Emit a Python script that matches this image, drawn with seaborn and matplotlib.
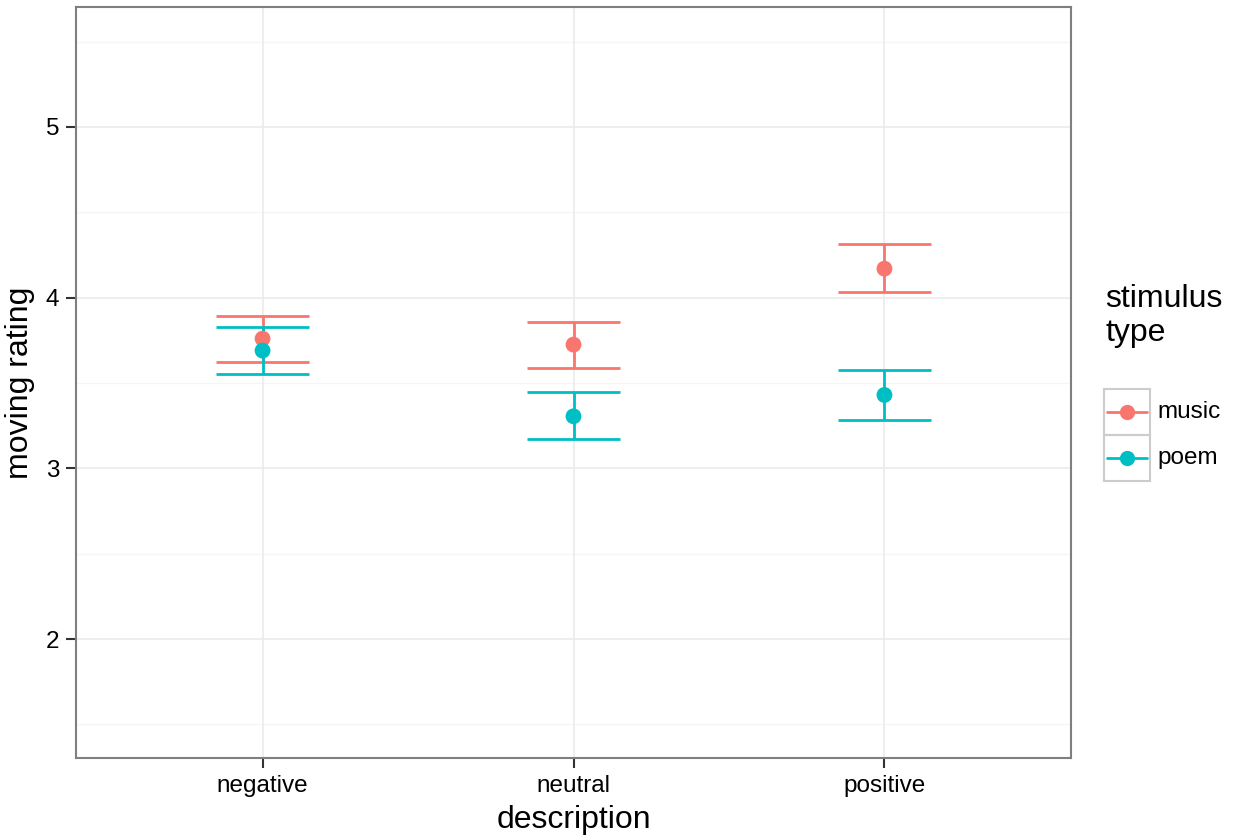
import numpy as np
import pandas as pd
import seaborn as sns
from matplotlib import pyplot as plt
from matplotlib.lines import Line2D
from matplotlib.patches import Rectangle

descriptions = ["negative", "neutral", "positive"]
stim_types = ["music", "poem"]
music_mean = [3.76, 3.725, 4.17]
music_lo = [3.625, 3.59, 4.035]
music_hi = [3.895, 3.86, 4.315]
poem_mean = [3.69, 3.305, 3.43]
poem_lo = [3.55, 3.17, 3.285]
poem_hi = [3.83, 3.445, 3.575]

palette = {"music": "#F8766D", "poem": "#00BFC4"}

df = pd.DataFrame({
    "description": descriptions * 2,
    "stimulus": ["music"] * 3 + ["poem"] * 3,
    "mean": music_mean + poem_mean,
    "lo": music_lo + poem_lo,
    "hi": music_hi + poem_hi,
})

sns.set_style("white")
plt.rcParams["font.family"] = ["Liberation Sans", "DejaVu Sans"]
plt.rcParams["text.color"] = "black"
plt.rcParams["axes.labelcolor"] = "black"

W, H = 1239, 835
fig = plt.figure(figsize=(W / 100, H / 100), dpi=100)
ax = fig.add_axes([76 / W, 1 - 758 / H, 995 / W, 751 / H])

# grid
for y in [1.5, 2.5, 3.5, 4.5, 5.5]:
    ax.axhline(y, color="#F5F5F5", lw=1.0, zorder=0)
for y in [2, 3, 4, 5]:
    ax.axhline(y, color="#EBEBEB", lw=1.2, zorder=0)
for x in range(3):
    ax.axvline(x, color="#EBEBEB", lw=1.2, zorder=0)

xpos = {d: i for i, d in enumerate(descriptions)}
for _, r in df.iterrows():
    c = palette[r["stimulus"]]
    x = xpos[r["description"]]
    ax.vlines(x, r["lo"], r["hi"], color=c, lw=2, zorder=2)
    ax.hlines([r["lo"], r["hi"]], x - 0.15, x + 0.15, color=c, lw=2, zorder=2)

sns.scatterplot(data=df, x="description", y="mean", hue="stimulus",
                palette=palette, s=130, edgecolor="none", ax=ax,
                legend=False, zorder=3)

ax.set_xlim(-0.6, 2.6)
ax.set_ylim(1.303, 5.703)
ax.set_yticks([2, 3, 4, 5])
ax.set_xticks(range(3))
ax.set_xticklabels(descriptions)
ax.tick_params(axis="both", labelsize=17.5, length=7, width=1.5,
               color="#333333", labelcolor="black", pad=5, direction="out")
ax.tick_params(left=True, bottom=True)
ax.set_xlabel("description", fontsize=23, labelpad=6)
ax.set_ylabel("moving rating", fontsize=23, labelpad=8)
for s in ax.spines.values():
    s.set_color("#7F7F7F")
    s.set_linewidth(1.5)

# legend, drawn by hand in the ggplot style
def fx(px):
    return px / W


def fy(py):
    return 1 - py / H


fig.text(fx(1105), fy(299), "stimulus", fontsize=23, va="center", ha="left")
fig.text(fx(1105), fy(333), "type", fontsize=23, va="center", ha="left")
for i, t in enumerate(stim_types):
    top = 389 + 46 * i
    fig.add_artist(Rectangle((fx(1104), fy(top + 46)), 46 / W, 46 / H,
                             transform=fig.transFigure, fill=False,
                             edgecolor="#CCCCCC", lw=1.5))
    cy = top + 23
    fig.add_artist(Line2D([fx(1107), fx(1147)], [fy(cy), fy(cy)],
                          transform=fig.transFigure, color=palette[t], lw=2))
    fig.add_artist(Line2D([fx(1127)], [fy(cy)], transform=fig.transFigure,
                          color=palette[t], marker="o", markersize=11,
                          markeredgewidth=0))
    fig.text(fx(1157), fy(cy), t, fontsize=17.5, va="center", ha="left")

fig.savefig("out.png", dpi=100)
